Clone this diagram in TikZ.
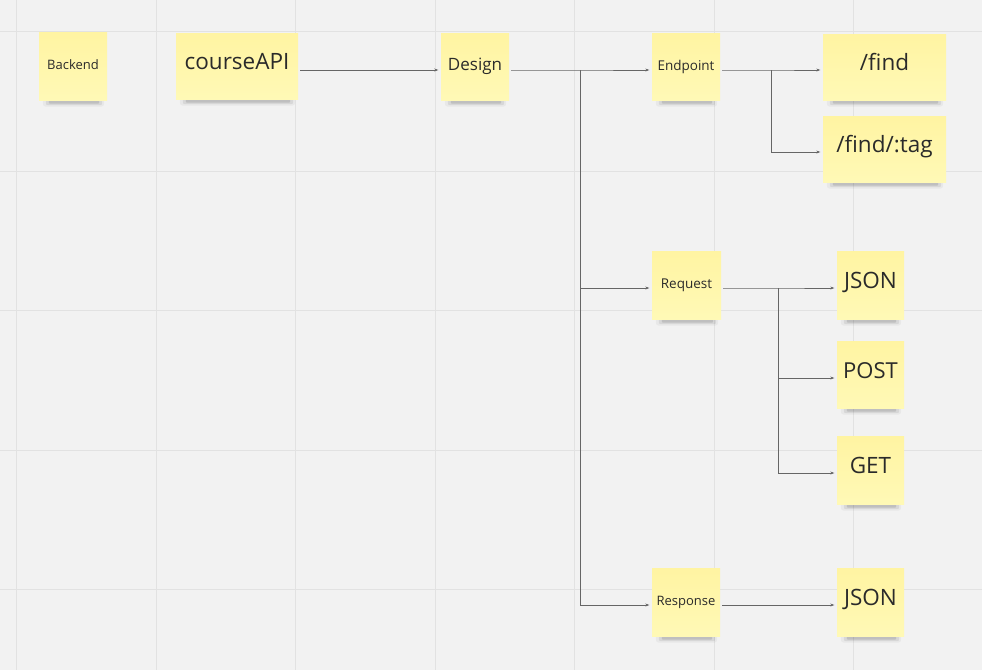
\documentclass[tikz,border=0pt]{standalone}
\usepackage{fontspec}
\setmainfont{Open Sans}
\usetikzlibrary{arrows.meta}
\definecolor{bgc}{HTML}{F2F2F2}
\definecolor{gridc}{HTML}{E2E2E2}
\definecolor{stickytop}{HTML}{FFF4A2}
\definecolor{stickybot}{HTML}{FFF9B6}
\definecolor{txtc}{HTML}{2A2A2A}
\definecolor{linec}{HTML}{666666}
\pgfdeclarelayer{canvas}
\pgfdeclarelayer{shadowlayer}
\pgfsetlayers{canvas,shadowlayer,main}
\begin{document}
\begin{tikzpicture}[x=1pt,y=-1pt,
  sticky/.style={top color=stickytop, bottom color=stickybot, inner sep=0pt, text=txtc, text height=0.72em, text depth=-1pt, align=center},
  box/.style 2 args={minimum width=#1pt, minimum height=#2pt},
  fs/.style={font=\fontsize{#1pt}{#1pt}\selectfont},
  conn/.style={draw=linec, line width=0.6pt, shorten >=2.5pt, -{Stealth[length=4pt,width=3pt]}},
  gridline/.style={draw=gridc, line width=1pt},
  shade1/.style={fill=black, opacity=0.04, rounded corners=3pt},
  shade2/.style={fill=black, opacity=0.07, rounded corners=2pt},
  shade3/.style={fill=black, opacity=0.11, rounded corners=1pt}]
\useasboundingbox (0,0) rectangle (982,670);
\begin{pgfonlayer}{canvas}
\fill[bgc] (0,0) rectangle (982,670);
\foreach \gx in {16.5,156,295.5,435,574.5,714,853.5} {\draw[gridline] (\gx,0) -- (\gx,670);}
\foreach \gy in {31.5,171,310.5,450,589.5} {\draw[gridline] (0,\gy) -- (982,\gy);}
\end{pgfonlayer}
% stickies
\node[sticky,box={68}{68},fs=13] (backend) at (73,66) {Backend};
\node[sticky,box={122}{66},fs=22.5] (courseapi) at (237,66) {courseAPI};
\node[sticky,box={68}{67},fs=17] (design) at (475,66.5) {Design};
\node[sticky,box={68}{67},fs=13.5] (endpoint) at (686,66.5) {Endpoint};
\node[sticky,box={123}{66},fs=22.5] (find) at (884.5,67) {/find};
\node[sticky,box={123}{66},fs=22.5] (findtag) at (884.5,149) {/find/:tag};
\node[sticky,box={69}{68},fs=13.5] (request) at (686.5,285) {Request};
\node[sticky,box={67}{68},fs=22.5] (json1) at (870.5,285) {JSON};
\node[sticky,box={67}{67},fs=22] (post) at (870.5,374.5) {POST};
\node[sticky,box={67}{68},fs=22.5] (get) at (870.5,470) {GET};
\node[sticky,box={68}{68},fs=13] (response) at (686,602) {Response};
\node[sticky,box={67}{68},fs=22.5] (json2) at (870.5,602) {JSON};
% shadows
\begin{pgfonlayer}{shadowlayer}
\foreach \s in {backend,courseapi,design,endpoint,find,findtag,request,json1,post,get,response,json2} {
  \fill[shade1] ([xshift=4pt,yshift=2pt]\s.south west) rectangle ([xshift=-3pt,yshift=-6.5pt]\s.south east);
  \fill[shade2] ([xshift=7pt,yshift=2pt]\s.south west) rectangle ([xshift=-5pt,yshift=-5pt]\s.south east);
  \fill[shade3] ([xshift=10pt,yshift=2pt]\s.south west) rectangle ([xshift=-8pt,yshift=-3.5pt]\s.south east);
}
\end{pgfonlayer}
% junctions
\coordinate (dj) at (580.5,70);
\coordinate (ej) at (771,70);
\coordinate (rj) at (778,288);
% connectors
\draw[conn] ([xshift=2pt,yshift=-4pt]courseapi.east) -- ([yshift=-3.5pt]design.west);
\draw[conn] ([xshift=2pt,yshift=-3.5pt]design.east) -- (dj) -- ([yshift=-3.5pt]endpoint.west);
\draw[conn] (dj) |- ([yshift=-3pt]request.west);
\draw[conn] (dj) |- ([yshift=-3pt]response.west);
\draw[conn] ([xshift=2pt,yshift=-3.5pt]endpoint.east) -- (ej) -- ([yshift=-3pt]find.west);
\draw[conn] (ej) |- ([yshift=-3pt]findtag.west);
\draw[conn] ([xshift=2pt,yshift=-3pt]request.east) -- (rj) -- ([yshift=-3pt]json1.west);
\draw[conn] (rj) |- ([yshift=-3.5pt]post.west);
\draw[conn] (rj) |- ([yshift=-3pt]get.west);
\draw[conn] ([xshift=2pt,yshift=-3pt]response.east) -- ([yshift=-3pt]json2.west);
\end{tikzpicture}
\end{document}
